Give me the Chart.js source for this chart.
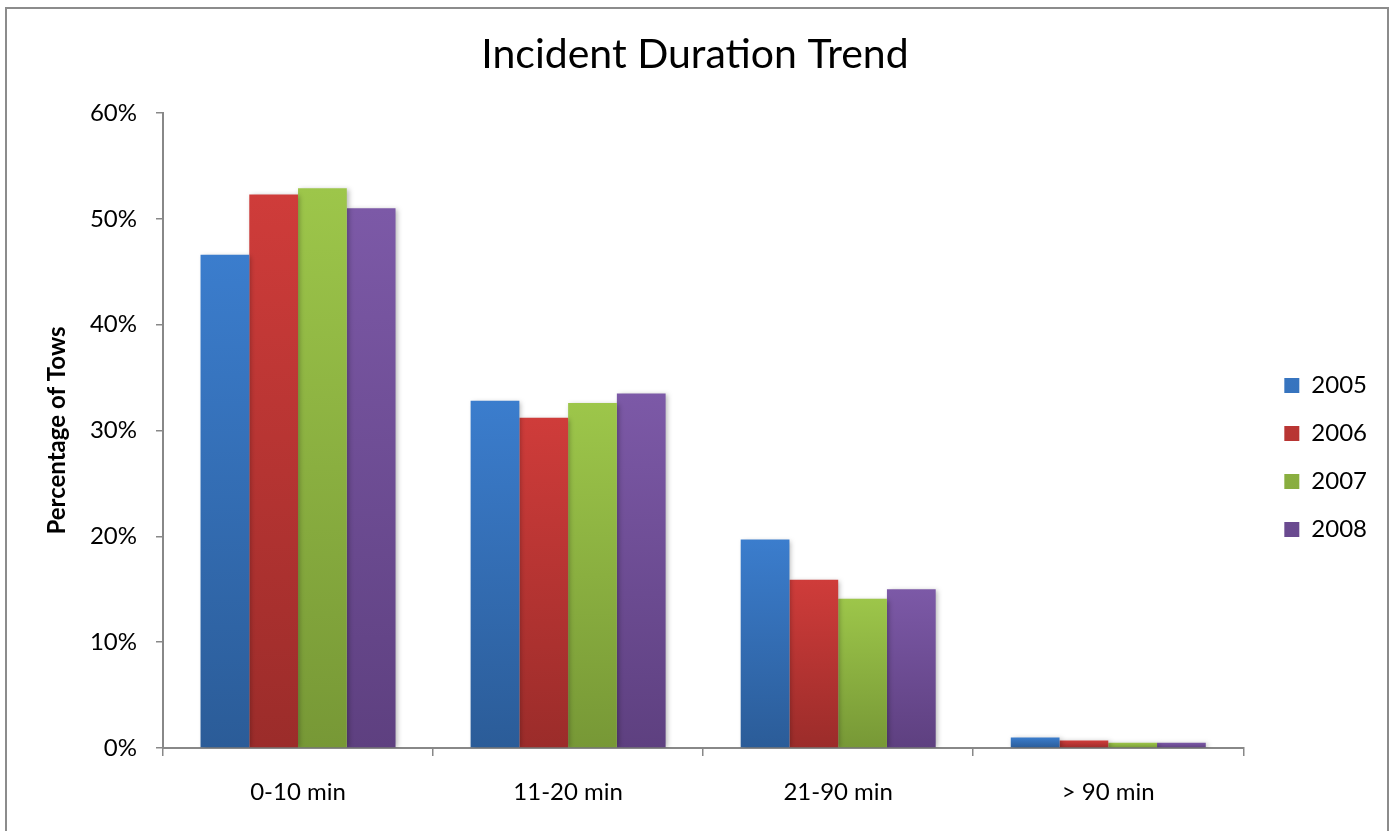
<!DOCTYPE html>
<html>
<head>
<meta charset="utf-8">
<script src="https://cdn.jsdelivr.net/npm/chart.js@4.4.1/dist/chart.umd.min.js"></script>
<style>
  html, body { margin: 0; padding: 0; background: #fff; overflow: hidden; }
  #wrap { position: absolute; left: 0; top: 0; width: 1390px; height: 831px; }
  #frame { position: absolute; left: 5px; top: 7px; width: 1380px; height: 840px; border: 2px solid #8c8c8c; pointer-events: none; }
</style>
</head>
<body>
<div id="frame"></div>
<div id="wrap"><canvas id="durationChart"></canvas></div>
<script>

var categories = ['0-10 min', '11-20 min', '21-90 min', '> 90 min'];
var years = ['2005', '2006', '2007', '2008'];
var values2005 = [46.6, 32.8, 19.7, 1.0];
var values2006 = [52.3, 31.2, 15.9, 0.7];
var values2007 = [52.9, 32.6, 14.1, 0.5];
var values2008 = [51.0, 33.5, 15.0, 0.5];

const topColors = ['#3b7dcd', '#cf3c3a', '#9dc64a', '#7c59a7'];
const bottomColors = ['#2b5c98', '#9b2c2a', '#779836', '#5e4080'];
const midColors = ['#336cb3', '#b53432', '#8aaf40', '#6c4c93'];

const FONT = 'Lato, "Open Sans", sans-serif';

function barFill(ctx, i) {
    const chart = ctx.chart;
    if (!chart.chartArea || ctx.type !== 'data') return midColors[i];
    const y = chart.scales.y;
    const y0 = y.getPixelForValue(0);
    const y1 = y.getPixelForValue(ctx.parsed.y);
    if (!isFinite(y0) || !isFinite(y1) || y0 - y1 < 1) return topColors[i];
    const g = chart.ctx.createLinearGradient(0, y1, 0, y0);
    g.addColorStop(0, topColors[i]);
    g.addColorStop(1, bottomColors[i]);
    return g;
}

var series = [values2005, values2006, values2007, values2008];
var datasets = series.map((vals, i) => ({
    label: years[i],
    data: vals,
    backgroundColor: (c) => barFill(c, i),
    borderWidth: 0,
    categoryPercentage: 0.722,
    barPercentage: 1.0
}));

// soft drop shadow under the bars, like the office style
const barShadow = {
    id: 'barShadow',
    beforeDatasetsDraw(chart) {
        const c = chart.ctx;
        c.save();
        c.shadowColor = 'rgba(0,0,0,0.28)';
        c.shadowBlur = 5;
        c.shadowOffsetX = 2;
        c.shadowOffsetY = 1;
    },
    afterDatasetsDraw(chart) {
        chart.ctx.restore();
    }
};

// legend sits a bit further right / lower than chart.js puts it,
// and the title is centred on the whole canvas
const layoutNudge = {
    id: 'layoutNudge',
    afterLayout(chart) {
        const lg = chart.legend;
        lg.left += 17;
        lg.right += 17;
        lg.top += 27;
        lg.bottom += 27;
        const t = chart.titleBlock;
        t.left = 0;
        t.right = chart.width;
        t.width = chart.width;
    }
};

var ctx = document.getElementById('durationChart').getContext('2d');

var myChart = new Chart(ctx, {
    type: 'bar',
    data: {
        labels: categories,
        datasets: datasets
    },
    plugins: [barShadow, layoutNudge],
    options: {
        responsive: true,
        maintainAspectRatio: false,
        animation: false,
        layout: {
            padding: { left: 0, right: 30, top: 0, bottom: 0 }
        },
        scales: {
            x: {
                afterFit: (s) => { s.height = 83; },
                grid: {
                    display: true,
                    drawOnChartArea: false,
                    drawTicks: true,
                    tickLength: 8,
                    color: '#888888',
                    lineWidth: 1.5
                },
                border: { display: true, color: '#888888', width: 2 },
                ticks: {
                    color: '#000',
                    padding: 22,
                    font: { family: FONT, size: 24 }
                }
            },
            y: {
                min: 0,
                max: 60,
                afterFit: (s) => { s.width = 163; },
                grid: {
                    display: true,
                    drawOnChartArea: false,
                    drawTicks: true,
                    tickLength: 7,
                    color: '#888888',
                    lineWidth: 1.5
                },
                border: { display: true, color: '#888888', width: 2 },
                ticks: {
                    stepSize: 10,
                    color: '#000',
                    padding: 19,
                    font: { family: FONT, size: 24 },
                    callback: (v) => v + '%'
                },
                title: {
                    display: true,
                    text: 'Percentage of Tows',
                    color: '#000',
                    padding: { top: 43, bottom: 0 },
                    font: { family: FONT, size: 24, weight: 'bold' }
                }
            }
        },
        plugins: {
            title: {
                display: true,
                text: 'Incident Duration Trend',
                color: '#000',
                padding: { top: 30, bottom: 33.8 },
                font: { family: FONT, size: 41, weight: 'normal' }
            },
            legend: {
                display: true,
                position: 'right',
                fullSize: false,
                labels: {
                    boxWidth: 15,
                    boxHeight: 15,
                    padding: 24,
                    color: '#000',
                    font: { family: FONT, size: 24 }
                }
            },
            tooltip: { enabled: false }
        }
    }
});
</script>
</body>
</html>
